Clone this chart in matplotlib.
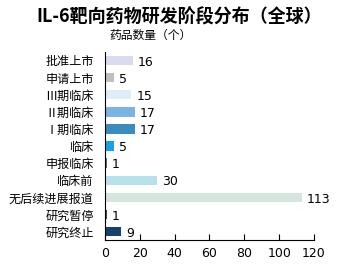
import matplotlib
matplotlib.use("Agg")
import matplotlib.pyplot as plt

plt.rcParams['font.family'] = ['Noto Sans CJK SC', 'DejaVu Sans']

# 数据
stages = ["批准上市", "申请上市", "Ⅲ期临床", "Ⅱ期临床", "Ⅰ期临床", "临床",
          "申报临床", "临床前", "无后续进展报道", "研究暂停", "研究终止"]
counts = [16, 5, 15, 17, 17, 5, 1, 30, 113, 1, 9]
colors = ["#d9dcee", "#bfbfbf", "#ddeef9", "#7ab4e2", "#3a8cbf", "#1aa0e8",
          "#5f6e7a", "#b6e2ec", "#d6e4de", "#3a4a5a", "#17406b"]
xticks = [0, 20, 40, 60, 80, 100, 120]

fig = plt.figure(figsize=(3.58, 2.65), dpi=100)
ax = fig.add_axes([0.293, 0.094, 0.584, 0.71])

y = list(range(len(stages)))
ax.barh(y, counts, height=0.55, color=colors)
for yi, v in zip(y, counts):
    ax.text(v + 3, yi + 0.1, str(v), va='center', ha='left', fontsize=9,
            family='DejaVu Sans')

ax.set_ylim(len(stages) - 0.5, -0.5)
ax.set_xlim(0, 120)
ax.set_yticks(y)
ax.set_yticklabels(stages, fontsize=8.7)
ax.tick_params(axis='y', length=0, pad=8)
ax.set_xticks(xticks)
ax.tick_params(axis='x', direction='in', length=4, labelsize=9, pad=5)
for lbl in ax.get_xticklabels():
    lbl.set_family('DejaVu Sans')
for s in ['top', 'right']:
    ax.spines[s].set_visible(False)
ax.spines['left'].set_color('black')
ax.spines['bottom'].set_color('black')

fig.text(0.5, 0.935, "IL-6靶向药物研发阶段分布（全球）", ha='center', va='center',
         fontsize=13, fontweight='bold')
fig.text(0.42, 0.865, "药品数量（个）", ha='center', va='center', fontsize=8.5)

fig.savefig("out.png", dpi=100)
